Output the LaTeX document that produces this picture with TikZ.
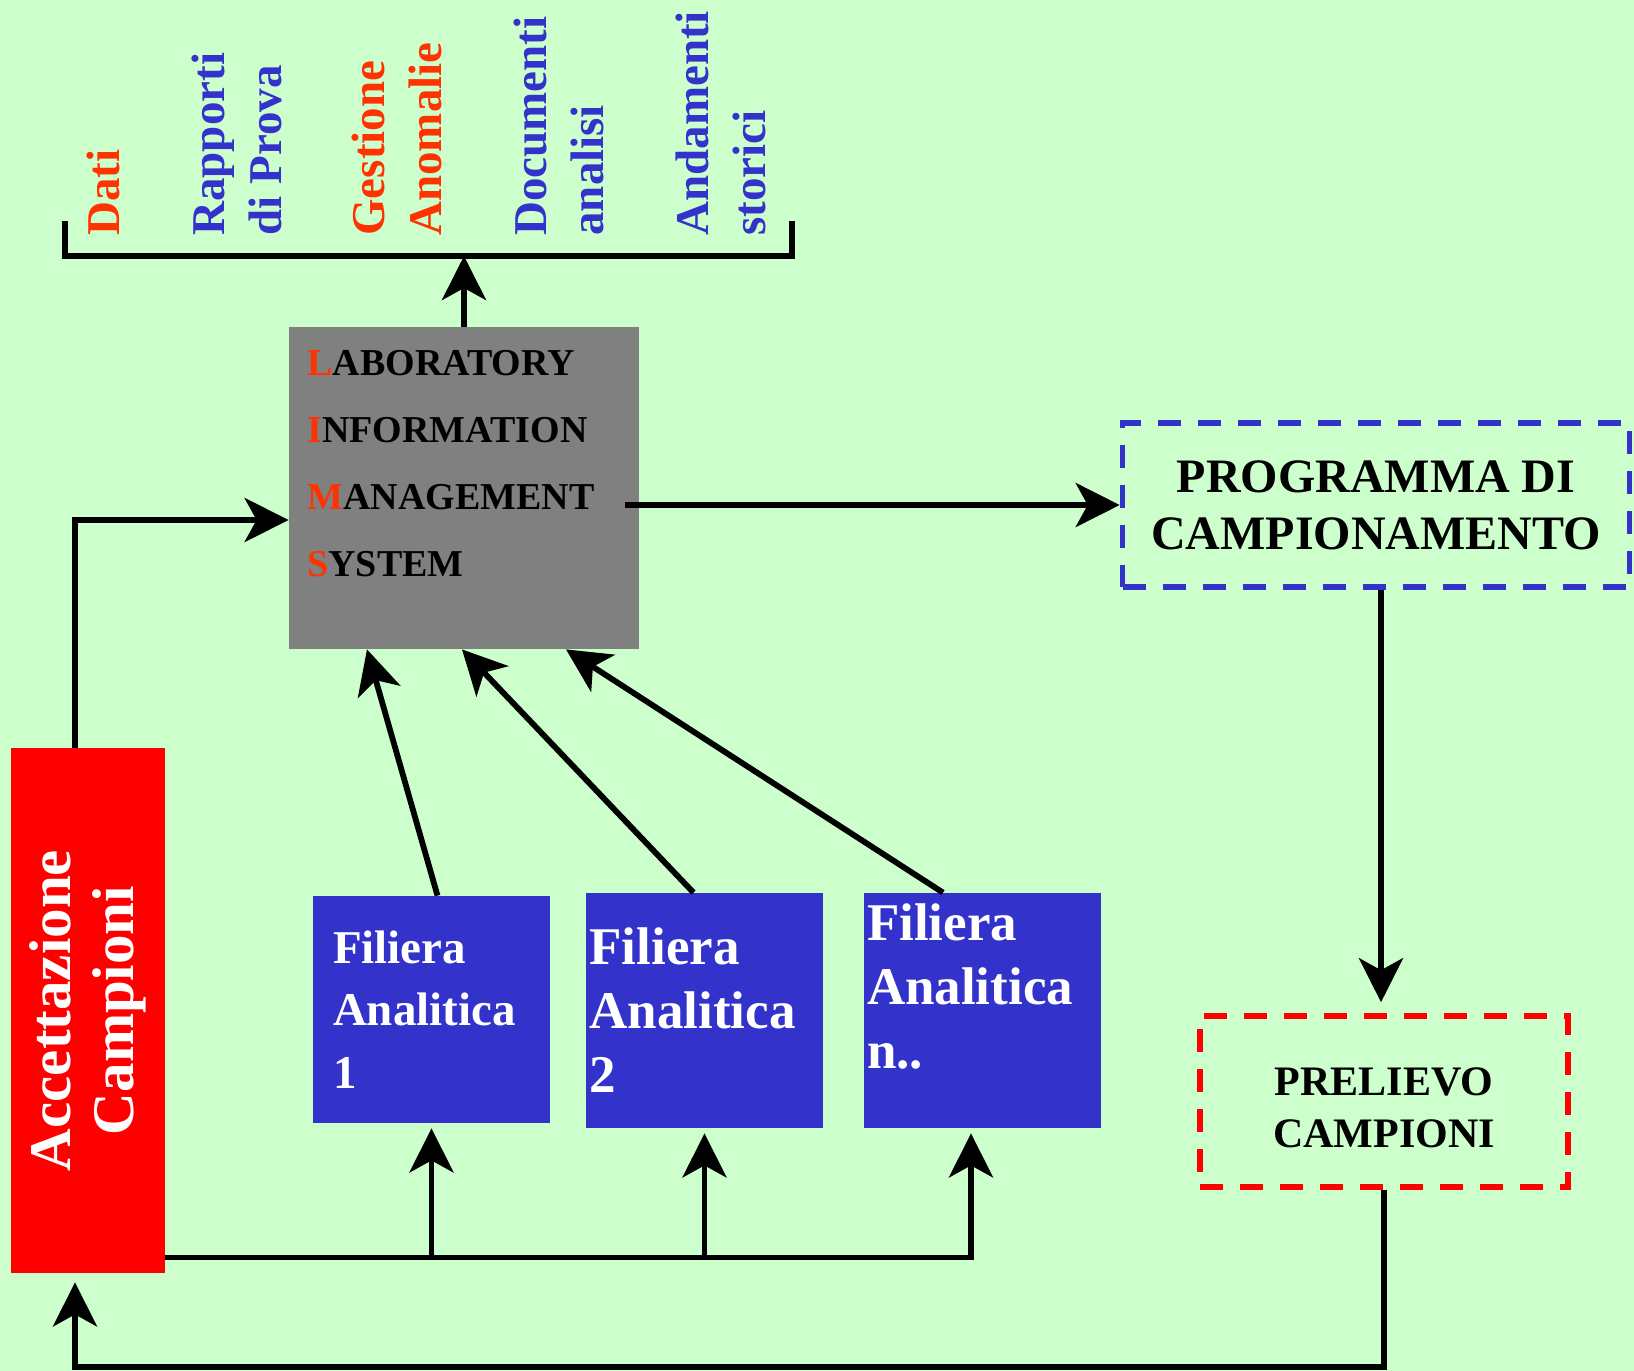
\documentclass[tikz,border=0pt]{standalone}
\usepackage{fontspec}
\setmainfont{Liberation Serif}
\usepackage{tikz}
\usetikzlibrary{arrows.meta}
\definecolor{bggreen}{RGB}{204,255,204}
\definecolor{fblue}{RGB}{51,51,204}
\definecolor{ored}{RGB}{255,51,0}
\definecolor{limsgray}{RGB}{128,128,128}
\tikzset{
	conn/.style={line width=2.9pt},
	arr/.style={conn, -{Stealth[length=22pt, width=22pt, inset=6pt]}},
	toplbl/.style={rotate=90, anchor=north west, inner sep=0pt, align=left, font=\fontsize{23.5}{28.5}\selectfont\bfseries},
	dashbox/.style={draw, line width=2.8pt, dash pattern=on 11.5pt off 8.5pt, inner sep=0pt, align=center},
	filiera/.style={fill=fblue, text=white, align=left, minimum width=118.5pt, inner ysep=0pt}
}

\begin{document}
\begin{tikzpicture}[x=0.5pt, y=-0.5pt]
			\useasboundingbox (0,0) rectangle (1634,1371);
			\fill[bggreen] (0,0) rectangle (1634,1371);

			% outputs of the LIMS
			\node[toplbl, text=ored] (dati) at (86,236) {Dati};
			\node[toplbl, text=fblue] (rapporti) at (191,236) {Rapporti\\di Prova};
			\node[toplbl, text=ored] (gestione) at (351,236) {Gestione\\Anomalie};
			\node[toplbl, text=fblue] (documenti) at (513,236) {Documenti\\analisi};
			\node[toplbl, text=fblue] (andamenti) at (675,236) {Andamenti\\storici};

			% LIMS
			\node[fill=limsgray, minimum width=175pt, minimum height=161pt] (lims) at (464,488) {};
			\node[anchor=north west, inner sep=0pt, align=left, font=\fontsize{19}{33.5}\selectfont\bfseries] (limslbl) at (307,350)
				{\textcolor{ored}{L}ABORATORY\\\textcolor{ored}{I}NFORMATION\\\textcolor{ored}{M}ANAGEMENT\\\textcolor{ored}{S}YSTEM};

			\node[dashbox, draw=fblue, minimum width=253.5pt, minimum height=82pt, font=\fontsize{24}{28.5}\selectfont\bfseries] (prog) at (1376,505)
				{PROGRAMMA DI\\CAMPIONAMENTO};
			\node[dashbox, draw=red, minimum width=184pt, minimum height=85.5pt, font=\fontsize{21}{26}\selectfont\bfseries] (prel) at (1384,1101.5)
				{\rule{0pt}{20pt}PRELIEVO\\CAMPIONI};

			\node[rotate=90, fill=red, text=white, align=center, minimum width=262.5pt, minimum height=77pt, font=\fontsize{29.5}{31.5}\selectfont\bfseries] (acc) at (88,1010.5)
				{Accettazione\\Campioni};

			\node[filiera, minimum height=113.5pt, inner xsep=10pt, text width=98.5pt, font=\fontsize{23.5}{31.25}\selectfont\bfseries] (fil1) at (431.5,1009.5)
				{Filiera\\Analitica\\1};
			\node[filiera, minimum height=117.5pt, inner xsep=1.5pt, text width=115pt, font=\fontsize{26.5}{32}\selectfont\bfseries] (fil2) at (704.5,1010.5)
				{Filiera\\Analitica\\2};
			\node[filiera, minimum height=117.5pt, inner xsep=1.5pt, text width=115pt, font=\fontsize{26.5}{32}\selectfont\bfseries] (fil3) at (982,1010.5)
				{Filiera\\Analitica\\n..\rule[-24pt]{0pt}{24pt}};

			% bracket
			\coordinate (brL) at (65,221);
			\coordinate (brR) at (792,221);
			\coordinate (brM) at (lims.north |- 0,256);
			\draw[conn] (brL) -- (brL |- brM) -- (brR |- brM) -- (brR);
			\draw[arr] (lims.north) -- (brM);

			% connectors
			\draw[arr] ([xshift=-6.5pt]acc.east) |- ([yshift=-16pt]lims.west);
			\coordinate (limsout) at (prog.west -| lims.east);
			\draw[arr] ([xshift=-7pt]limsout) -- (prog.west);
			\coordinate (progout) at ([xshift=2.5pt]prog.south);
			\draw[arr, shorten >=5.5pt] (progout) -- (progout |- prel.north);
			\coordinate (ret) at (prel.south |- 0,1367);
			\draw[arr, shorten >=4.5pt] (prel.south) -- (ret) -| ([xshift=-6.5pt]acc.west);

			\coordinate (bus) at ([yshift=8pt]acc.south west);
			\coordinate (fin3) at ([xshift=-5.5pt]fil3.south);
			\draw[arr, shorten >=2.5pt] (bus) -| (fin3);
			\draw[arr, shorten >=2.5pt] (bus -| fil1.south) -- (fil1.south);
			\draw[arr, shorten >=2.5pt] (bus -| fil2.south) -- (fil2.south);

			\foreach \f/\a/\b in {fil1/3/-48.5, fil2/-5.5/-1, fil3/-19.5/51}
			{
				\draw[arr] ([xshift=\a pt]\f.north) -- ([xshift=\b pt]lims.south);
			}
		\end{tikzpicture}
\end{document}
